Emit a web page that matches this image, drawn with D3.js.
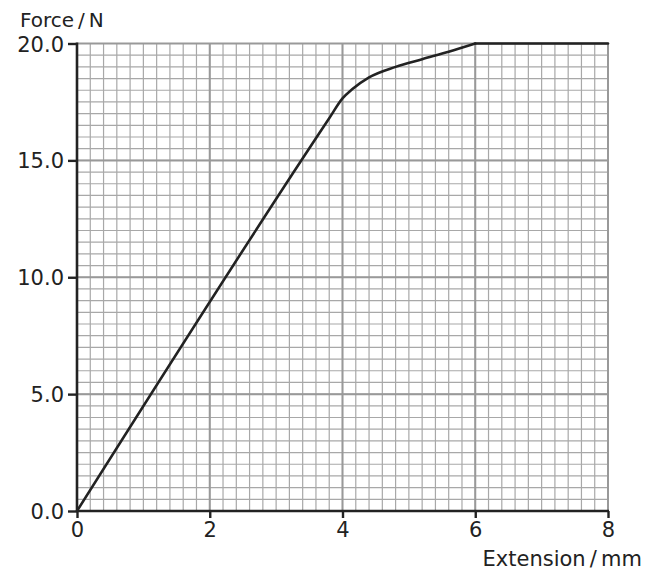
<!DOCTYPE html>
<html>
<head>
<meta charset="utf-8">
<script src="https://cdn.jsdelivr.net/npm/d3@7"></script>
<style>
  html, body { margin: 0; padding: 0; background: #fff; }
</style>
</head>
<body>
<div id="chart"></div>
<script>
// values
var extension = [0, 3.8, 4.0, 4.15, 4.4, 4.8, 5.2, 5.6, 6.0, 8.0];
var force     = [0, 16.8, 17.65, 18.05, 18.55, 19.0, 19.33, 19.65, 20.0, 20.0];
var xTicks = [0, 2, 4, 6, 8];
var yTicks = [0, 5, 10, 15, 20];
var xTitle = "Extension\u2009/\u2009mm";
var yTitle = "Force\u2009/\u2009N";

(function(){
    var width = 646;
    var height = 574;

    var margin = { top: 43.5, bottom: 63, left: 77, right: 38 };

    var yformat = d3.format('.1f');

    var svg = d3.select("#chart")
        .append("svg")
            .attr("width", width)
            .attr("height", height)
            .style("font-family", '"DejaVu Sans", "Liberation Sans", Arial, sans-serif');

    var xScale = d3.scaleLinear()
        .domain([0, 8])
        .range([margin.left, width - margin.right]);

    var yScale = d3.scaleLinear()
        .domain([0, 20])
        .range([height - margin.bottom, margin.top]);

    var grid = svg.append('g').attr('class', 'grid');

    // fine grid: 0.2 mm and 0.5 N
    grid.selectAll('.vminor')
        .data(xScale.ticks(40))
        .enter()
        .append('line')
        .attr('x1', function(d){ return xScale(d); })
        .attr('x2', function(d){ return xScale(d); })
        .attr('y1', yScale(0))
        .attr('y2', yScale(20))
        .attr('stroke', '#a8a8a8')
        .attr('stroke-width', 1.2);

    grid.selectAll('.hminor')
        .data(yScale.ticks(40))
        .enter()
        .append('line')
        .attr('y1', function(d){ return yScale(d); })
        .attr('y2', function(d){ return yScale(d); })
        .attr('x1', xScale(0))
        .attr('x2', xScale(8))
        .attr('stroke', '#a8a8a8')
        .attr('stroke-width', 1.2);

    // heavier lines every 2 mm and 5 N
    grid.selectAll('.vmajor')
        .data(xTicks)
        .enter()
        .append('line')
        .attr('x1', function(d){ return xScale(d); })
        .attr('x2', function(d){ return xScale(d); })
        .attr('y1', yScale(0))
        .attr('y2', yScale(20))
        .attr('stroke', '#999')
        .attr('stroke-width', 2);

    grid.selectAll('.hmajor')
        .data(yTicks)
        .enter()
        .append('line')
        .attr('y1', function(d){ return yScale(d); })
        .attr('y2', function(d){ return yScale(d); })
        .attr('x1', xScale(0))
        .attr('x2', xScale(8))
        .attr('stroke', '#999')
        .attr('stroke-width', 2);

    // the curve: rising part smoothed, flat part after 20 N drawn straight
    var points = extension.map(function(x, i){ return [x, force[i]]; });
    var maxF = d3.max(force);
    var firstMax = force.indexOf(maxF);
    var rising = points.slice(0, firstMax + 1);
    var flat = points.slice(firstMax);

    var smooth = d3.line()
        .x(function(d){ return xScale(d[0]); })
        .y(function(d){ return yScale(d[1]); })
        .curve(d3.curveMonotoneX);

    var straight = d3.line()
        .x(function(d){ return xScale(d[0]); })
        .y(function(d){ return yScale(d[1]); });

    svg.selectAll('.curve')
        .data([[rising, smooth], [flat, straight]])
        .enter()
        .append('path')
        .attr('class', 'curve')
        .attr('d', function(d){ return d[1](d[0]); })
        .attr('fill', 'none')
        .attr('stroke', '#222')
        .attr('stroke-width', 2.6)
        .attr('stroke-linecap', 'round');

    // axes
    var xAxis = d3.axisBottom(xScale)
        .tickValues(xTicks)
        .tickSize(7)
        .tickPadding(4)
        .tickFormat(d3.format('d'));

    var yAxis = d3.axisLeft(yScale)
        .tickValues(yTicks)
        .tickSize(9)
        .tickPadding(4)
        .tickFormat(yformat);

    var gx = svg.append('g')
        .attr('transform', 'translate(0,' + yScale(0) + ')')
        .call(xAxis);

    var gy = svg.append('g')
        .attr('transform', 'translate(' + xScale(0) + ',0)')
        .call(yAxis);

    [gx, gy].forEach(function(g){
        g.select('.domain').remove();
        g.selectAll('.tick line')
            .attr('stroke', '#222')
            .attr('stroke-width', 2.4);
        g.selectAll('.tick text')
            .attr('fill', '#222')
            .attr('font-size', '21px')
            .style('font-family', '"DejaVu Sans", "Liberation Sans", Arial, sans-serif');
    });

    gy.selectAll('.tick text').attr('dy', '0.36em');

    svg.append('line')
        .attr('x1', xScale(0))
        .attr('x2', xScale(8) + 1)
        .attr('y1', yScale(0))
        .attr('y2', yScale(0))
        .attr('stroke', '#222')
        .attr('stroke-width', 2.6);

    svg.append('line')
        .attr('x1', xScale(0))
        .attr('x2', xScale(0))
        .attr('y1', yScale(0) + 1)
        .attr('y2', yScale(20) - 1)
        .attr('stroke', '#222')
        .attr('stroke-width', 2.6);

    svg.append('text')
        .attr('x', 20)
        .attr('y', 27)
        .attr('font-size', '20px')
        .attr('fill', '#222')
        .text(yTitle);

    svg.append('text')
        .attr('x', 642)
        .attr('y', 566)
        .attr('text-anchor', 'end')
        .attr('font-size', '21px')
        .attr('fill', '#222')
        .text(xTitle);
})();
</script>
</body>
</html>
